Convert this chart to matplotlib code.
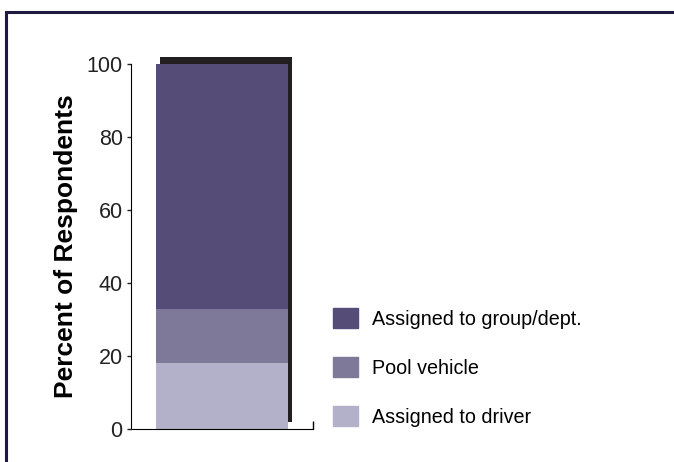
import matplotlib
matplotlib.use("Agg")
import matplotlib.pyplot as plt
from matplotlib.patches import Rectangle, Patch

plt.rcParams['font.family'] = ['Liberation Sans', 'DejaVu Sans']

labels = ["Assigned to driver", "Pool vehicle", "Assigned to group/dept."]
values = [18, 15, 67]
colors = ["#b3b1c9", "#7e7899", "#554c77"]
yticks = [0, 20, 40, 60, 80, 100]

fig = plt.figure(figsize=(6.74, 4.62), dpi=100)
ax = fig.add_axes([131/674, 1 - 429/462, 182/674, 365/462])

# shadow behind the bar
total = sum(values)
ax.bar(0.5 + 0.022, total, width=0.725, bottom=2, color="#231f20", zorder=1, clip_on=False)

bottom = 0
for v, c, lab in zip(values, colors, labels):
    ax.bar(0.5, v, width=0.725, bottom=bottom, color=c, label=lab, zorder=2, clip_on=False)
    bottom += v

ax.set_xlim(0, 1)
ax.set_ylim(0, 100)
ax.set_yticks(yticks)
ax.set_xticks([1])
ax.set_xticklabels([])
ax.tick_params(axis='x', direction='in', length=6, width=1)
ax.tick_params(axis='y', direction='out', length=3, width=1, labelsize=15.5, pad=3, colors='#222222')
ax.spines['top'].set_visible(False)
ax.spines['right'].set_visible(False)
ax.set_ylabel("Percent of Respondents", fontsize=19, fontweight='bold', labelpad=6)

handles = [Patch(color=c) for c in colors][::-1]
fig.legend(handles, labels[::-1], loc='upper left', bbox_to_anchor=(325/674, 1 - 300/462),
           frameon=False, fontsize=14.2, handlelength=1.28, handleheight=1.18,
           labelspacing=1.45, handletextpad=0.72, borderaxespad=0)

# outer frame
fig.patches.append(Rectangle((5.5/674, -0.1), 1.2, 1 - 11.5/462 + 0.1, transform=fig.transFigure,
                             fill=False, edgecolor="#1e1a40", linewidth=2.2))

fig.savefig("out.png", dpi=100)
